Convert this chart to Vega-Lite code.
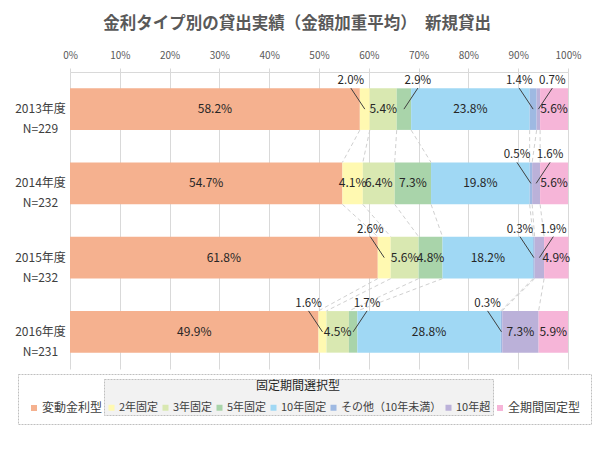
{
  "$schema": "https://vega.github.io/schema/vega-lite/v6.json",
  "autosize": "none",
  "width": 498,
  "height": 297,
  "padding": {"left": 70, "top": 72, "right": 32, "bottom": 81},
  "title": {"text": "金利タイプ別の貸出実績（金額加重平均）　新規貸出", "fontSize": 16.5, "fontWeight": "bold", "color": "#595959", "anchor": "middle", "frame": "group", "dx": -22, "offset": 18, "font": "Noto Sans CJK JP"},
  "config": {
    "font": "Noto Sans CJK JP",
    "view": {"stroke": null},
    "legend": {"strokeDash": [2, 1]}
  },
  "data": {"values": [
      {"year": "2013年度 N=229", "cat": "変動金利型", "k": 1, "value": 58.2},
      {"year": "2013年度 N=229", "cat": "2年固定", "k": 2, "value": 2.0},
      {"year": "2013年度 N=229", "cat": "3年固定", "k": 3, "value": 5.4},
      {"year": "2013年度 N=229", "cat": "5年固定", "k": 4, "value": 2.9},
      {"year": "2013年度 N=229", "cat": "10年固定", "k": 5, "value": 23.8},
      {"year": "2013年度 N=229", "cat": "その他（10年未満）", "k": 6, "value": 1.4},
      {"year": "2013年度 N=229", "cat": "10年超", "k": 7, "value": 0.7},
      {"year": "2013年度 N=229", "cat": "全期間固定型", "k": 8, "value": 5.6},
      {"year": "2014年度 N=232", "cat": "変動金利型", "k": 1, "value": 54.7},
      {"year": "2014年度 N=232", "cat": "2年固定", "k": 2, "value": 4.1},
      {"year": "2014年度 N=232", "cat": "3年固定", "k": 3, "value": 6.4},
      {"year": "2014年度 N=232", "cat": "5年固定", "k": 4, "value": 7.3},
      {"year": "2014年度 N=232", "cat": "10年固定", "k": 5, "value": 19.8},
      {"year": "2014年度 N=232", "cat": "その他（10年未満）", "k": 6, "value": 0.5},
      {"year": "2014年度 N=232", "cat": "10年超", "k": 7, "value": 1.6},
      {"year": "2014年度 N=232", "cat": "全期間固定型", "k": 8, "value": 5.6},
      {"year": "2015年度 N=232", "cat": "変動金利型", "k": 1, "value": 61.8},
      {"year": "2015年度 N=232", "cat": "2年固定", "k": 2, "value": 2.6},
      {"year": "2015年度 N=232", "cat": "3年固定", "k": 3, "value": 5.6},
      {"year": "2015年度 N=232", "cat": "5年固定", "k": 4, "value": 4.8},
      {"year": "2015年度 N=232", "cat": "10年固定", "k": 5, "value": 18.2},
      {"year": "2015年度 N=232", "cat": "その他（10年未満）", "k": 6, "value": 0.3},
      {"year": "2015年度 N=232", "cat": "10年超", "k": 7, "value": 1.9},
      {"year": "2015年度 N=232", "cat": "全期間固定型", "k": 8, "value": 4.9},
      {"year": "2016年度 N=231", "cat": "変動金利型", "k": 1, "value": 49.9},
      {"year": "2016年度 N=231", "cat": "2年固定", "k": 2, "value": 1.6},
      {"year": "2016年度 N=231", "cat": "3年固定", "k": 3, "value": 4.5},
      {"year": "2016年度 N=231", "cat": "5年固定", "k": 4, "value": 1.7},
      {"year": "2016年度 N=231", "cat": "10年固定", "k": 5, "value": 28.8},
      {"year": "2016年度 N=231", "cat": "その他（10年未満）", "k": 6, "value": 0.3},
      {"year": "2016年度 N=231", "cat": "10年超", "k": 7, "value": 7.3},
      {"year": "2016年度 N=231", "cat": "全期間固定型", "k": 8, "value": 5.9}
  ]},
  "transform": [
    {"stack": "value", "groupby": ["year"], "sort": [{"field": "k", "order": "ascending"}], "as": ["x0", "x1"]},
    {"calculate": "(datum.x0 + datum.x1) / 2", "as": "mid"},
    {"calculate": "format(datum.value, '.1f') + '%'", "as": "label"},
    {"calculate": "(datum.k == 2 || datum.k == 6) ? -1 : 1", "as": "dir"},
    {"calculate": "datum.mid + datum.dir * 2.8", "as": "lx"}
  ],
  "resolve": {"scale": {"fill": "independent"}, "legend": {"fill": "independent"}},
  "layer": [
    {
      "mark": {"type": "bar"},
      "encoding": {
        "x": {
          "field": "x0", "type": "quantitative",
          "scale": {"domain": [0, 100], "nice": false},
          "axis": {
            "orient": "top", "title": null, "values": [0, 10, 20, 30, 40, 50, 60, 70, 80, 90, 100],
            "labelExpr": "datum.value + '%'", "labelFontSize": 10, "labelColor": "#595959",
            "grid": true, "gridColor": "#d9d9d9", "domainColor": "#d9d9d9", "tickColor": "#d9d9d9",
            "tickSize": 4, "labelPadding": 8, "labelFlush": false
          }
        },
        "x2": {"field": "x1"},
        "y": {
          "field": "year", "type": "nominal",
          "scale": {"paddingInner": 0.44, "paddingOuter": 0.22},
          "axis": {
            "title": null, "domain": false, "ticks": false, "tickSize": 0, "labelPadding": 30,
            "labelAlign": "center", "labelBaseline": "middle", "labelFontSize": 12, "labelColor": "#404040",
            "labelLineHeight": 20, "labelExpr": "split(datum.label, ' ')"
          }
        },
        "fill": {
          "field": "cat", "type": "nominal",
          "scale": {
            "domain": ["変動金利型", "2年固定", "3年固定", "5年固定", "10年固定", "その他（10年未満）", "10年超", "全期間固定型"],
            "range": ["#F5B18F", "#FFF9B1", "#D9E8B1", "#A9D4AA", "#A0D8F4", "#9EB9E2", "#BBB1D9", "#F6B5D8"]
          },
          "legend": {
            "values": ["変動金利型", "全期間固定型"],
            "title": "　", "titleFontSize": 12, "titlePadding": 6,
            "orient": "none", "legendX": -52, "legendY": 302, "direction": "horizontal", "columns": 2,
            "fillColor": "white", "strokeColor": "#bfbfbf", "padding": 10, "columnPadding": 391, "zindex": 0,
            "symbolType": "square", "symbolSize": 36, "symbolOpacity": 1, "symbolStrokeWidth": 0,
            "labelFontSize": 12, "labelColor": "#404040", "labelOffset": 2
          }
        }
      }
    },
    {
      "transform": [
        {"window": [{"op": "lead", "field": "x1", "as": "nx1"}, {"op": "lead", "field": "year", "as": "nyear"}], "groupby": ["cat"], "sort": [{"field": "year", "order": "ascending"}]},
        {"filter": "datum.nyear != null && datum.k < 8"}
      ],
      "mark": {"type": "rule", "stroke": "#d0d0d0", "strokeWidth": 1, "strokeDash": [4, 3], "yOffset": 21, "y2Offset": -21},
      "encoding": {
        "x": {"field": "x1", "type": "quantitative", "axis": {"orient": "top", "title": null}},
        "x2": {"field": "nx1"},
        "y": {"field": "year", "type": "nominal", "axis": {"title": null}},
        "y2": {"field": "nyear"}
      }
    },
    {
      "transform": [{"filter": "datum.value >= 3"}],
      "mark": {"type": "text", "fontSize": 12, "color": "#262626", "baseline": "middle"},
      "encoding": {
        "x": {"field": "mid", "type": "quantitative", "axis": {"orient": "top", "title": null}},
        "y": {"field": "year", "type": "nominal", "axis": {"title": null}},
        "text": {"field": "label"}
      }
    },
    {
      "transform": [{"filter": "datum.value < 3"}],
      "mark": {"type": "rule", "stroke": "#404040", "strokeWidth": 1, "y2Offset": -21},
      "encoding": {
        "x": {"field": "mid", "type": "quantitative", "axis": {"orient": "top", "title": null}},
        "x2": {"field": "lx"},
        "y": {"field": "year", "type": "nominal", "axis": {"title": null}},
        "y2": {"field": "year"}
      }
    },
    {
      "transform": [{"filter": "datum.value < 3"}],
      "mark": {"type": "text", "fontSize": 11.5, "color": "#262626", "baseline": "middle", "dy": -28},
      "encoding": {
        "x": {"field": "lx", "type": "quantitative", "axis": {"orient": "top", "title": null}},
        "y": {"field": "year", "type": "nominal", "axis": {"title": null}},
        "text": {"field": "label"}
      }
    },
    {
      "transform": [{"filter": "datum.k >= 2 && datum.k <= 7"}],
      "mark": {"type": "square", "opacity": 0},
      "encoding": {
        "fill": {
          "field": "cat", "type": "nominal",
          "scale": {"domain": ["2年固定", "3年固定", "5年固定", "10年固定", "その他（10年未満）", "10年超"], "range": ["#FFF9B1", "#D9E8B1", "#A9D4AA", "#A0D8F4", "#9EB9E2", "#BBB1D9"]},
          "legend": {
            "title": "固定期間選択型", "titleAnchor": "middle", "titleFontSize": 12, "titleFontWeight": "normal", "titleColor": "#262626", "titlePadding": 9,
            "orient": "none", "legendX": 34, "legendY": 307, "direction": "horizontal", "columns": 6,
            "fillColor": "#f2f2f2", "strokeColor": "#bfbfbf", "padding": 2, "columnPadding": 1, "zindex": 1,
            "symbolType": "square", "symbolSize": 36, "symbolOpacity": 1, "symbolStrokeWidth": 0,
            "labelFontSize": 11, "labelColor": "#404040", "labelOffset": 2
          }
        }
      }
    }
  ]
}
